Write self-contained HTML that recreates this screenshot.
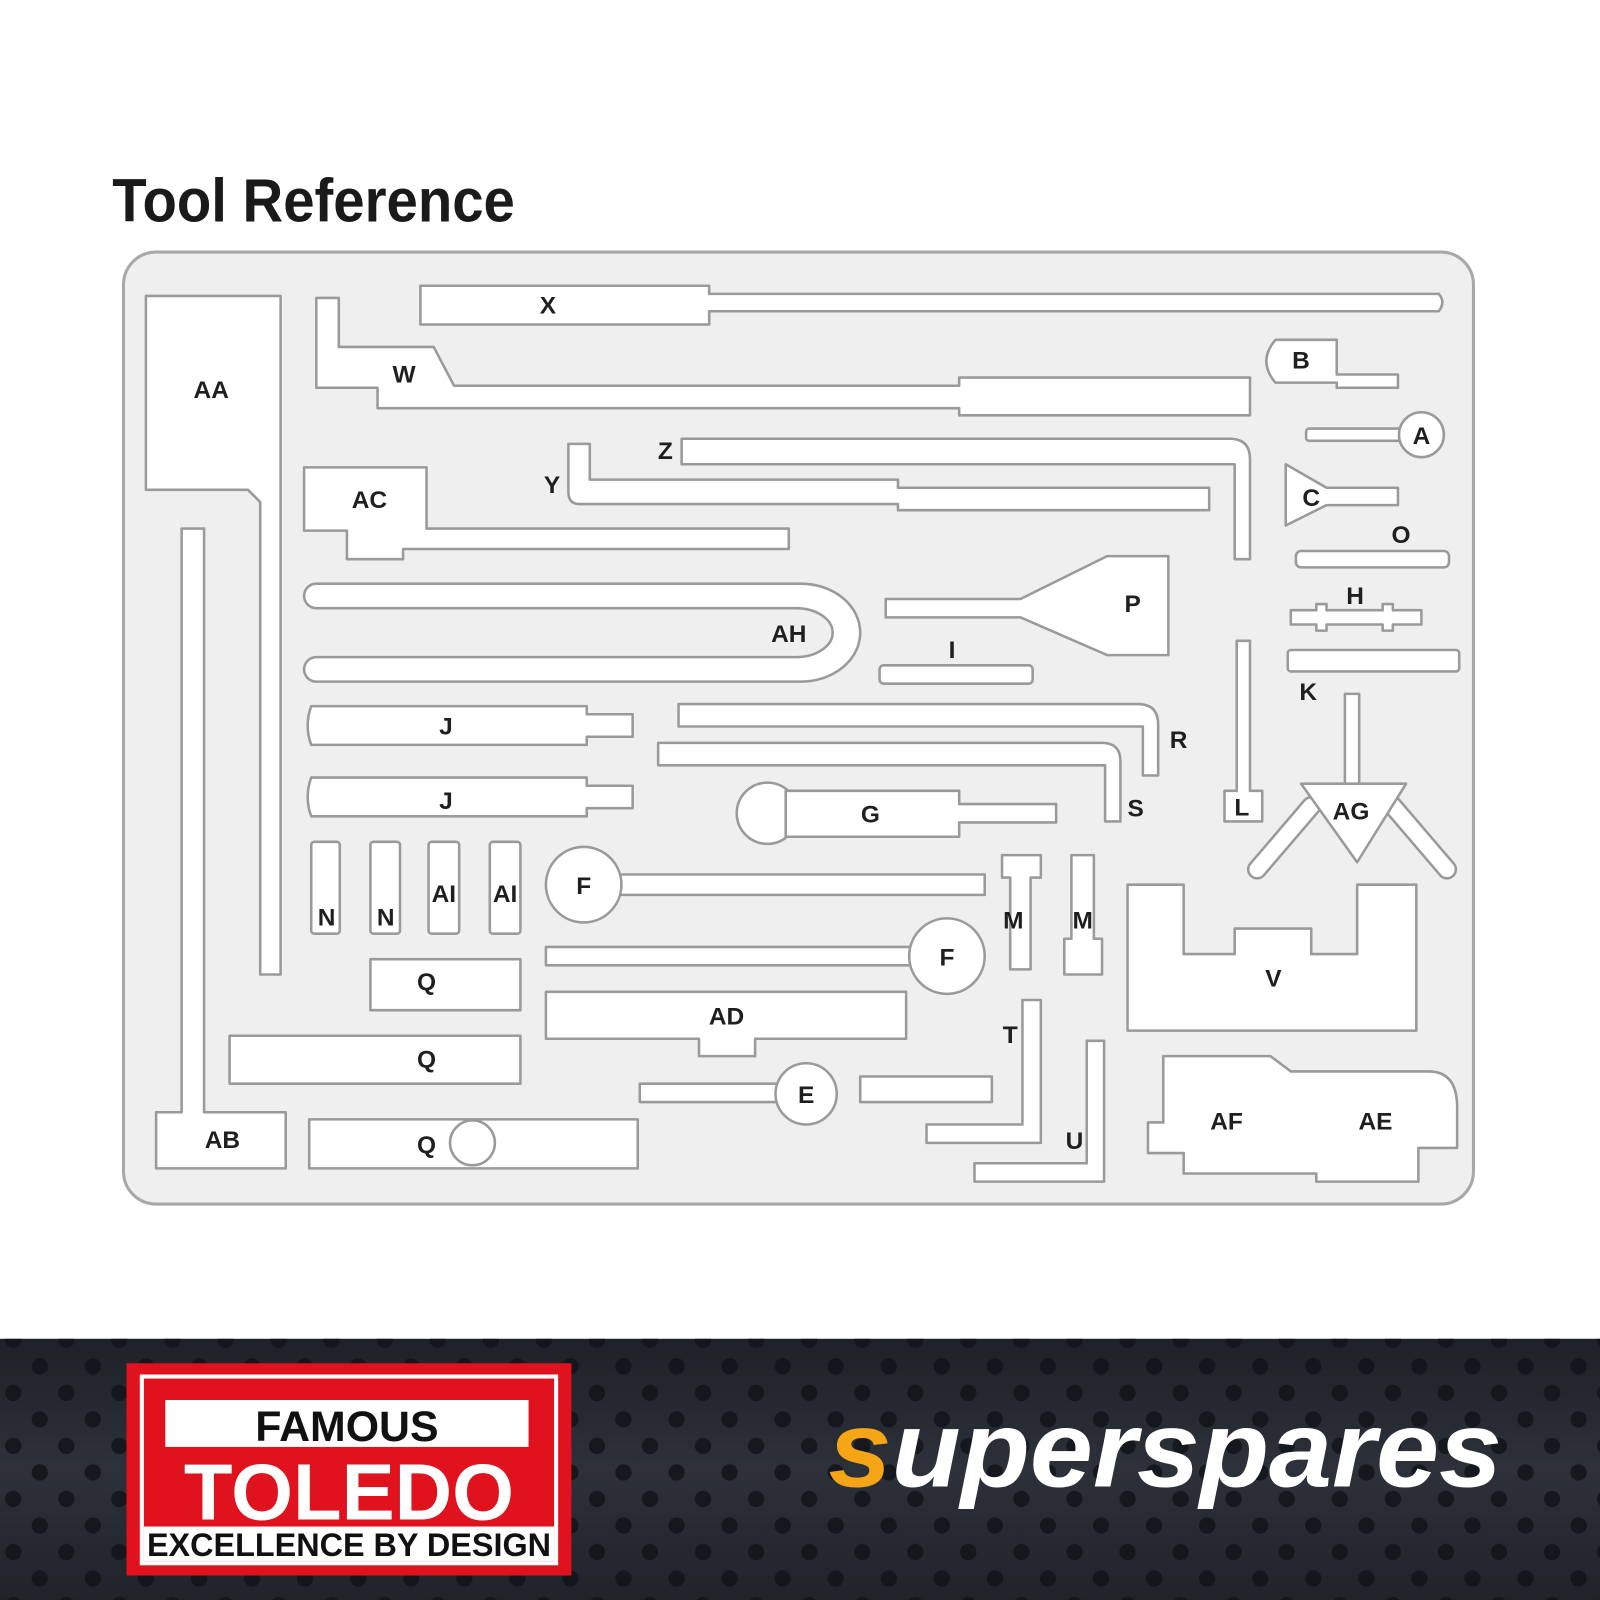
<!DOCTYPE html>
<html><head><meta charset="utf-8"><style>
html,body{margin:0;padding:0;background:#fff;width:1600px;height:1600px;overflow:hidden}
svg{display:block}
</style></head><body>
<svg width="1600" height="1600" viewBox="0 0 1568 1568" xmlns="http://www.w3.org/2000/svg">
<defs>
<pattern id="dots" x="0" y="0" width="52" height="52" patternUnits="userSpaceOnUse">
<circle cx="13" cy="13" r="8" fill="#11141a"/>
<circle cx="39" cy="39" r="8" fill="#11141a"/>
</pattern>
<linearGradient id="bg" x1="0" y1="0" x2="0" y2="1"><stop offset="0" stop-color="#1d2128"/><stop offset="0.5" stop-color="#2c313a"/><stop offset="1" stop-color="#1f232a"/></linearGradient>
</defs>
<rect width="1568" height="1568" fill="#fff"/>
<text x="110" y="217" font-family="Liberation Sans, sans-serif" font-weight="bold" font-size="60" fill="#1a1a1a" transform="translate(110 0) scale(0.92 1) translate(-110 0)">Tool Reference</text>

<rect x="121" y="247" width="1323" height="933" rx="32" fill="#efefef" stroke="#a8a8a8" stroke-width="3"/>

<g fill="#fff" stroke="#9a9a9a" stroke-width="2.5" stroke-linejoin="round">
<path d="M143,290 H275 V955 H255 V492 L243,480 H143 Z"/>
<path d="M178,518 H200 V1090 H280 V1145 H153 V1090 H178 Z"/>
<path d="M412,280 H695 V288 H1410 Q1417,296 1410,305 H695 V318 H412 Z"/>
<path d="M310,292 H332 V340 H425 L445,378 H940 V370 H1225 V407 H940 V400 H370 V380 H310 Z"/>
<path d="M668,430 H1205 Q1225,430 1225,450 V548 H1210 V455 H668 Z"/>
<path d="M557,435 H578 V470 H880 V478 H1185 V500 H880 V494 H568 Q557,494 557,482 Z"/>
<path d="M298,458 H418 V518 H773 V538 H395 V548 H340 V520 H298 Z"/>
<path d="M310,572 H785 A58,48 0 0 1 785,668 H310 A12,12 0 0 1 310,644 H780 A36,24 0 0 0 780,596 H310 A12,12 0 0 1 310,572 Z"/>
<path d="M305,692 H575 V700 H620 V722 H575 V730 H305 Q298,711 305,692 Z"/>
<path d="M305,762 H575 V770 H620 V792 H575 V800 H305 Q298,781 305,762 Z"/>
<path d="M868,587 H1000 L1085,545 H1145 V642 H1085 L1000,605 H868 Z"/>
<rect x="862" y="652" width="150" height="18" rx="4"/>
<path d="M665,690 H1115 Q1135,690 1135,710 V760 H1120 V712 H665 Z"/>
<path d="M645,728 H1080 Q1098,728 1098,746 V805 H1083 V750 H645 Z"/>
<circle cx="752" cy="797" r="30"/>
<path d="M770,775 H940 V788 H1035 V806 H940 V820 H770 Z"/>
<rect x="305" y="825" width="28" height="90" rx="3"/>
<rect x="363" y="825" width="29" height="90" rx="3"/>
<rect x="420" y="825" width="30" height="90" rx="3"/>
<rect x="480" y="825" width="30" height="90" rx="3"/>
<path d="M600,857 H965 V877 H600 Z"/>
<circle cx="572" cy="867" r="37"/>
<path d="M535,928 H900 V946 H535 Z"/>
<circle cx="928" cy="937" r="37"/>
<path d="M982,838 H1020 V860 H1010 V950 H990 V860 H982 Z"/>
<path d="M1050,838 H1072 V920 H1080 V955 H1043 V920 H1050 Z"/>
<rect x="363" y="940" width="147" height="50"/>
<rect x="225" y="1015" width="285" height="47"/>
<rect x="303" y="1097" width="322" height="48"/>
<circle cx="463" cy="1120" r="22"/>
<path d="M535,972 H888 V1018 H740 V1035 H685 V1018 H535 Z"/>
<path d="M627,1062 H765 V1080 H627 Z"/>
<circle cx="790" cy="1072" r="30"/>
<rect x="843" y="1055" width="129" height="25"/>
<path d="M1002,980 H1020 V1120 H908 V1102 H1002 Z"/>
<path d="M1065,1020 H1082 V1158 H955 V1140 H1065 Z"/>
<path d="M1105,867 H1160 V935 H1210 V910 H1285 V935 H1330 V867 H1388 V1010 H1105 Z"/>
<path d="M1140,1035 H1245 L1265,1050 H1400 Q1428,1050 1428,1085 V1125 H1390 V1158 H1290 V1150 H1160 V1130 H1125 V1100 H1140 Z"/>
<path d="M1250,333 H1310 V367 H1370 V380 H1310 V375 H1250 Q1232,354 1250,333 Z"/>
<rect x="1280" y="420" width="95" height="12" rx="3"/>
<circle cx="1393" cy="426" r="22"/>
<path d="M1260,455 L1300,478 H1370 V495 H1300 L1260,515 Z"/>
<rect x="1270" y="540" width="150" height="16" rx="5"/>
<path d="M1265,598 H1290 V592 H1300 V598 H1355 V592 H1365 V598 H1393 V612 H1365 V618 H1355 V612 H1300 V618 H1290 V612 H1265 Z"/>
<rect x="1262" y="637" width="168" height="21" rx="3"/>
<path d="M1212,628 H1225 V775 H1237 V805 H1200 V775 H1212 Z"/>
<rect x="1318" y="680" width="14" height="90"/>
</g>
<g stroke-linecap="round">
<line x1="1285" y1="790" x2="1232" y2="852" stroke="#9a9a9a" stroke-width="20"/>
<line x1="1365" y1="790" x2="1418" y2="852" stroke="#9a9a9a" stroke-width="20"/>
<line x1="1285" y1="790" x2="1232" y2="852" stroke="#fff" stroke-width="15"/>
<line x1="1365" y1="790" x2="1418" y2="852" stroke="#fff" stroke-width="15"/>
</g>
<path d="M1275,768 H1378 L1330,845 Z" fill="#fff" stroke="#9a9a9a" stroke-width="2.5" stroke-linejoin="round"/>

<g font-family="Liberation Sans, sans-serif" font-weight="bold" font-size="24" fill="#1f1f1f" text-anchor="middle">
<text x="207" y="390">AA</text><text x="537" y="307">X</text><text x="396" y="375">W</text>
<text x="652" y="450">Z</text><text x="541" y="483">Y</text><text x="362" y="498">AC</text>
<text x="773" y="629">AH</text><text x="437" y="720">J</text><text x="437" y="793">J</text>
<text x="1110" y="600">P</text><text x="933" y="645">I</text><text x="1155" y="733">R</text>
<text x="1113" y="800">S</text><text x="853" y="806">G</text><text x="572" y="876">F</text>
<text x="928" y="946">F</text><text x="320" y="907">N</text><text x="378" y="907">N</text>
<text x="435" y="884">AI</text><text x="495" y="884">AI</text><text x="993" y="910">M</text>
<text x="1061" y="910">M</text><text x="418" y="970">Q</text><text x="418" y="1046">Q</text>
<text x="418" y="1130">Q</text><text x="712" y="1004">AD</text><text x="790" y="1081">E</text>
<text x="990" y="1022">T</text><text x="1053" y="1126">U</text><text x="1248" y="967">V</text>
<text x="1202" y="1107">AF</text><text x="1348" y="1107">AE</text><text x="218" y="1125">AB</text>
<text x="1275" y="361">B</text><text x="1393" y="435">A</text><text x="1285" y="496">C</text>
<text x="1373" y="532">O</text><text x="1328" y="592">H</text><text x="1282" y="686">K</text>
<text x="1217" y="799">L</text><text x="1324" y="803">AG</text>
</g>

<rect x="0" y="1312" width="1568" height="256" fill="url(#bg)"/>
<rect x="0" y="1312" width="1568" height="256" fill="url(#dots)" opacity="0.85"/>

<rect x="124" y="1336" width="436" height="208" fill="#e0121e"/>
<rect x="139" y="1349" width="406" height="183" fill="none" stroke="#fff" stroke-width="4"/>
<rect x="162" y="1372" width="356" height="46" fill="#fff"/>
<text x="340" y="1412" font-family="Liberation Sans, sans-serif" font-weight="bold" font-size="42" fill="#111" text-anchor="middle">FAMOUS</text>
<text x="342" y="1489" font-family="Liberation Sans, sans-serif" font-weight="bold" font-size="78" fill="#fff" text-anchor="middle">TOLEDO</text>
<rect x="141" y="1496" width="402" height="34" fill="#fff"/>
<text x="342" y="1525" font-family="Liberation Sans, sans-serif" font-weight="bold" font-size="32" fill="#111" text-anchor="middle" textLength="396" lengthAdjust="spacingAndGlyphs">EXCELLENCE BY DESIGN</text>

<text x="812" y="1457" font-family="Liberation Sans, sans-serif" font-weight="bold" font-style="italic" font-size="106" fill="#fff" textLength="660" lengthAdjust="spacingAndGlyphs"><tspan fill="#f5a516">s</tspan>uperspares</text>
</svg>
</body></html>
